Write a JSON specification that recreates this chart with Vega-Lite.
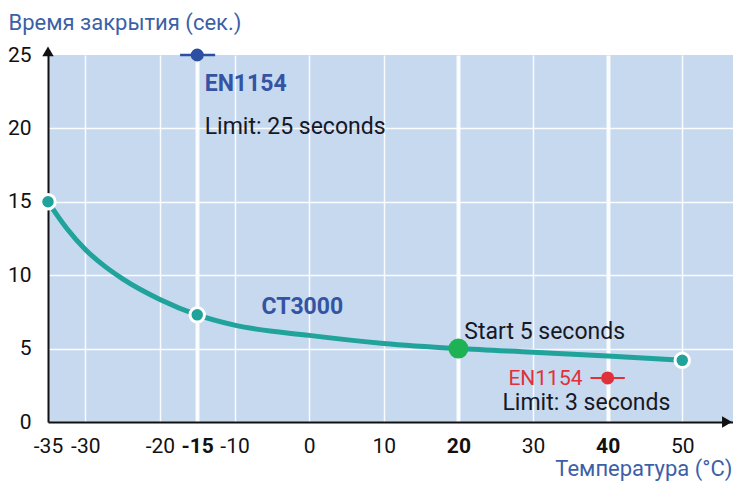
{
  "$schema": "https://vega.github.io/schema/vega-lite/v6.json",
  "width": 685,
  "height": 367,
  "autosize": {"type": "none"},
  "padding": {"left": 48, "top": 55, "right": 0, "bottom": 59},
  "background": "white",
  "config": {
    "font": "Roboto",
    "view": {"fill": "#c6d9ef", "stroke": null}
  },
  "datasets": {
    "curve": [
      {"t": -35, "s": 15}, {"t": -32.5, "s": 13.2}, {"t": -30, "s": 11.75}, {"t": -27.5, "s": 10.65}, {"t": -25, "s": 9.75}, {"t": -20, "s": 8.35},
      {"t": -15, "s": 7.3}, {"t": -10, "s": 6.6}, {"t": 0, "s": 5.9}, {"t": 10, "s": 5.35},
      {"t": 20, "s": 5.0}, {"t": 30, "s": 4.75}, {"t": 40, "s": 4.5}, {"t": 50, "s": 4.2}
    ],
    "nodes": [{"t": -35, "s": 15}, {"t": -15, "s": 7.3}, {"t": 50, "s": 4.2}],
    "start": [{"t": 20, "s": 5}],
    "limits": [
      {"t": -15, "s": 25, "lo": -17.3, "hi": -12.6, "std": "winter"},
      {"t": 40, "s": 3, "lo": 37.7, "hi": 42.3, "std": "summer"}
    ],
    "arrows": [
      {"t": 56.0, "s": 0, "dir": "x"},
      {"t": -35, "s": 25.25, "dir": "y"}
    ],
    "notes": [
      {"t": -14, "s": 23.0, "text": "EN1154", "group": "bluebold"},
      {"t": -14, "s": 20.1, "text": "Limit: 25 seconds", "group": "dark"},
      {"t": -6.4, "s": 7.8, "text": "CT3000", "group": "bluebold"},
      {"t": 20.8, "s": 6.1, "text": "Start 5 seconds", "group": "dark"},
      {"t": 26.7, "s": 2.9, "text": "EN1154", "group": "red"},
      {"t": 25.9, "s": 1.3, "text": "Limit: 3 seconds", "group": "dark"}
    ]
  },
  "layer": [
    {
      "data": {"name": "curve"},
      "mark": {"type": "line", "interpolate": "monotone", "color": "#1fa39a", "strokeWidth": 5},
      "encoding": {
        "x": {
          "field": "t", "type": "quantitative",
          "scale": {"domain": [-35, 56.8], "nice": false, "zero": false},
          "axis": {
            "values": [-35, -30, -20, -15, -10, 0, 10, 20, 30, 40, 50],
            "labelExpr": "'' + datum.value",
            "labelOverlap": false,
            "labelFlush": false,
            "title": "Температура (°C)",
            "titleFont": "Roboto",
            "titleFontSize": 22,
            "titleFontWeight": "normal",
            "titleColor": "#3d5fa8",
            "titleAnchor": "end",
            "titleAlign": "right",
            "titleBaseline": "alphabetic",
            "titleX": 684,
            "titleY": 53,
            "domainColor": "#111111",
            "domainWidth": 2,
            "ticks": false,
            "tickSize": 0,
            "labelPadding": 13,
            "labelFontSize": 21,
            "labelColor": "#111111",
            "labelFontWeight": {"condition": {"test": "datum.value == -15 || datum.value == 20 || datum.value == 40", "value": "bold"}, "value": "normal"},
            "grid": true,
            "gridColor": "white",
            "gridWidth": {"condition": {"test": "datum.value == -15 || datum.value == 20 || datum.value == 40", "value": 4}, "value": 1.5},
            "gridOpacity": {"condition": {"test": "datum.value == -35", "value": 0}, "value": 0.9}
          }
        },
        "y": {
          "field": "s", "type": "quantitative",
          "scale": {"domain": [0, 25], "nice": false},
          "axis": {
            "values": [0, 5, 10, 15, 20, 25],
            "labelOverlap": false,
            "labelFlush": false,
            "title": "Время закрытия (сек.)",
            "titleFont": "Roboto",
            "titleFontSize": 22,
            "titleFontWeight": "normal",
            "titleColor": "#3d5fa8",
            "titleAngle": 0,
            "titleAlign": "left",
            "titleBaseline": "alphabetic",
            "titleX": -40,
            "titleY": -26,
            "domainColor": "#111111",
            "domainWidth": 2,
            "ticks": false,
            "tickSize": 0,
            "labelPadding": 17,
            "labelFontSize": 21,
            "labelColor": "#111111",
            "grid": true,
            "gridColor": "white",
            "gridWidth": 1.5,
            "gridOpacity": {"condition": {"test": "datum.value == 0 || datum.value == 25", "value": 0}, "value": 0.9}
          }
        }
      }
    },
    {
      "data": {"name": "nodes"},
      "mark": {"type": "point", "filled": true, "color": "#1fa39a", "stroke": "white", "strokeWidth": 3, "size": 210, "opacity": 1},
      "encoding": {"x": {"field": "t", "type": "quantitative"}, "y": {"field": "s", "type": "quantitative"}}
    },
    {
      "data": {"name": "start"},
      "mark": {"type": "point", "filled": true, "color": "#1db354", "size": 400, "opacity": 1},
      "encoding": {"x": {"field": "t", "type": "quantitative"}, "y": {"field": "s", "type": "quantitative"}}
    },
    {
      "data": {"name": "limits"},
      "transform": [{"filter": "datum.std == 'winter'"}],
      "mark": {"type": "rule", "color": "#2d4fa3", "strokeWidth": 2.5},
      "encoding": {"x": {"field": "lo", "type": "quantitative"}, "x2": {"field": "hi"}, "y": {"field": "s", "type": "quantitative"}}
    },
    {
      "data": {"name": "limits"},
      "transform": [{"filter": "datum.std == 'summer'"}],
      "mark": {"type": "rule", "color": "#e0303a", "strokeWidth": 2},
      "encoding": {"x": {"field": "lo", "type": "quantitative"}, "x2": {"field": "hi"}, "y": {"field": "s", "type": "quantitative"}}
    },
    {
      "data": {"name": "limits"},
      "transform": [{"filter": "datum.std == 'winter'"}],
      "mark": {"type": "point", "filled": true, "color": "#2d4fa3", "size": 170, "opacity": 1},
      "encoding": {"x": {"field": "t", "type": "quantitative"}, "y": {"field": "s", "type": "quantitative"}}
    },
    {
      "data": {"name": "limits"},
      "transform": [{"filter": "datum.std == 'summer'"}],
      "mark": {"type": "point", "filled": true, "color": "#e0303a", "size": 170, "opacity": 1},
      "encoding": {"x": {"field": "t", "type": "quantitative"}, "y": {"field": "s", "type": "quantitative"}}
    },
    {
      "data": {"name": "arrows"},
      "transform": [{"filter": "datum.dir == 'x'"}],
      "mark": {"type": "point", "shape": "triangle-right", "filled": true, "color": "#111111", "size": 130, "opacity": 1},
      "encoding": {"x": {"field": "t", "type": "quantitative"}, "y": {"field": "s", "type": "quantitative"}}
    },
    {
      "data": {"name": "arrows"},
      "transform": [{"filter": "datum.dir == 'y'"}],
      "mark": {"type": "point", "shape": "triangle-up", "filled": true, "color": "#111111", "size": 130, "opacity": 1},
      "encoding": {"x": {"field": "t", "type": "quantitative"}, "y": {"field": "s", "type": "quantitative"}}
    },
    {
      "data": {"name": "notes"},
      "transform": [{"filter": "datum.group == 'bluebold'"}],
      "mark": {"type": "text", "align": "left", "baseline": "middle", "font": "Roboto", "fontSize": 23, "fontWeight": "bold", "color": "#3553a3"},
      "encoding": {"x": {"field": "t", "type": "quantitative"}, "y": {"field": "s", "type": "quantitative"}, "text": {"field": "text"}}
    },
    {
      "data": {"name": "notes"},
      "transform": [{"filter": "datum.group == 'dark'"}],
      "mark": {"type": "text", "align": "left", "baseline": "middle", "font": "Roboto", "fontSize": 23, "color": "#161826"},
      "encoding": {"x": {"field": "t", "type": "quantitative"}, "y": {"field": "s", "type": "quantitative"}, "text": {"field": "text"}}
    },
    {
      "data": {"name": "notes"},
      "transform": [{"filter": "datum.group == 'red'"}],
      "mark": {"type": "text", "align": "left", "baseline": "middle", "font": "Roboto", "fontSize": 21, "color": "#e0303a"},
      "encoding": {"x": {"field": "t", "type": "quantitative"}, "y": {"field": "s", "type": "quantitative"}, "text": {"field": "text"}}
    }
  ]
}
